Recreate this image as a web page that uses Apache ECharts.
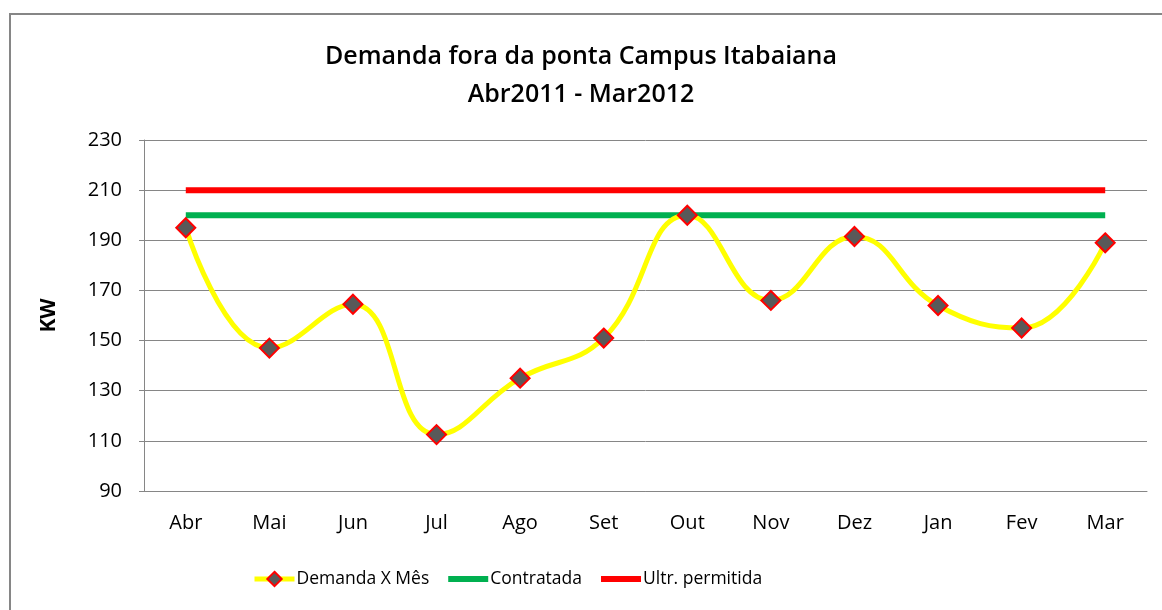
<!DOCTYPE html>
<html>
<head>
<meta charset="utf-8">
<script src="https://cdn.jsdelivr.net/npm/echarts@6/dist/echarts.min.js"></script>
<style>
  html, body { margin: 0; padding: 0; background: #fff; }
  #chart { width: 1162px; height: 610px; }
</style>
</head>
<body>
<div id="chart"></div>
<script>
// dados
var meses = ['Abr', 'Mai', 'Jun', 'Jul', 'Ago', 'Set', 'Out', 'Nov', 'Dez', 'Jan', 'Fev', 'Mar']
var demanda = [195, 147, 164.5, 112.5, 135, 151, 200, 166, 191.5, 164, 155, 189]
var contratada = [200, 200, 200, 200, 200, 200, 200, 200, 200, 200, 200, 200]
var ultrPermitida = [210, 210, 210, 210, 210, 210, 210, 210, 210, 210, 210, 210]

var fonte = "'Open Sans', 'Liberation Sans', sans-serif"
var myChart = echarts.init(document.getElementById('chart'))
var option = {
  backgroundColor: '#fff',
  animation: false,
  textStyle: { fontFamily: fonte },
  graphic: [{
    type: 'rect',
    shape: { x: 10, y: 14, width: 1200, height: 700 },
    style: { fill: 'none', stroke: '#868686', lineWidth: 2 }
  }],
  title: {
    text: 'Demanda fora da ponta Campus Itabaiana\nAbr2011 - Mar2012',
    left: 'center',
    top: 33,
    textStyle: { fontSize: 25, fontWeight: 600, color: '#000', lineHeight: 38, fontFamily: fonte }
  },
  legend: {
    bottom: 17,
    left: 247,
    itemWidth: 40,
    itemHeight: 18,
    itemGap: 16,
    textStyle: { fontSize: 17.5, color: '#000', fontFamily: fonte, padding: [0, 0, 0, -3] },
    data: [
      { name: 'Demanda X Mês', lineStyle: { width: 5 } },
      { name: 'Contratada', itemStyle: { opacity: 0 }, lineStyle: { width: 6 } },
      { name: 'Ultr. permitida', itemStyle: { opacity: 0 }, lineStyle: { width: 6 } }
    ]
  },
  grid: { left: 144, right: 15, top: 140, bottom: 119 },
  xAxis: {
    type: 'category',
    data: meses,
    boundaryGap: true,
    axisLine: { show: true, lineStyle: { color: '#868686', width: 1 } },
    axisTick: { show: false },
    axisLabel: { fontSize: 20, color: '#000', margin: 22 }
  },
  yAxis: {
    type: 'value',
    min: 90,
    max: 230,
    interval: 20,
    name: 'KW',
    nameLocation: 'middle',
    nameRotate: 90,
    nameGap: 84,
    nameTextStyle: { fontSize: 21, fontWeight: 'bold', color: '#000' },
    axisLine: { show: true, lineStyle: { color: '#868686', width: 1 } },
    axisTick: { show: true, length: 5, lineStyle: { color: '#868686' } },
    axisLabel: { fontSize: 20, color: '#000', margin: 22 },
    splitLine: { lineStyle: { color: '#868686', width: 1 } }
  },
  series: [
    {
      name: 'Ultr. permitida',
      type: 'line',
      data: ultrPermitida,
      showSymbol: false,
      symbol: 'none',
      itemStyle: { color: '#FF0000' },
      lineStyle: { color: '#FF0000', width: 6 },
      z: 2
    },
    {
      name: 'Contratada',
      type: 'line',
      data: contratada,
      showSymbol: false,
      symbol: 'none',
      itemStyle: { color: '#00B050' },
      lineStyle: { color: '#00B050', width: 6 },
      z: 3
    },
    {
      name: 'Demanda X Mês',
      type: 'line',
      data: demanda,
      smooth: 0.45,
      symbol: 'diamond',
      symbolSize: 19,
      itemStyle: { color: '#595959', borderColor: '#FF0000', borderWidth: 2 },
      lineStyle: { color: '#FFFF00', width: 5 },
      z: 4
    }
  ]
}
myChart.setOption(option, true)
window.addEventListener('resize', function () {
  myChart.resize()
})
</script>
</body>
</html>
